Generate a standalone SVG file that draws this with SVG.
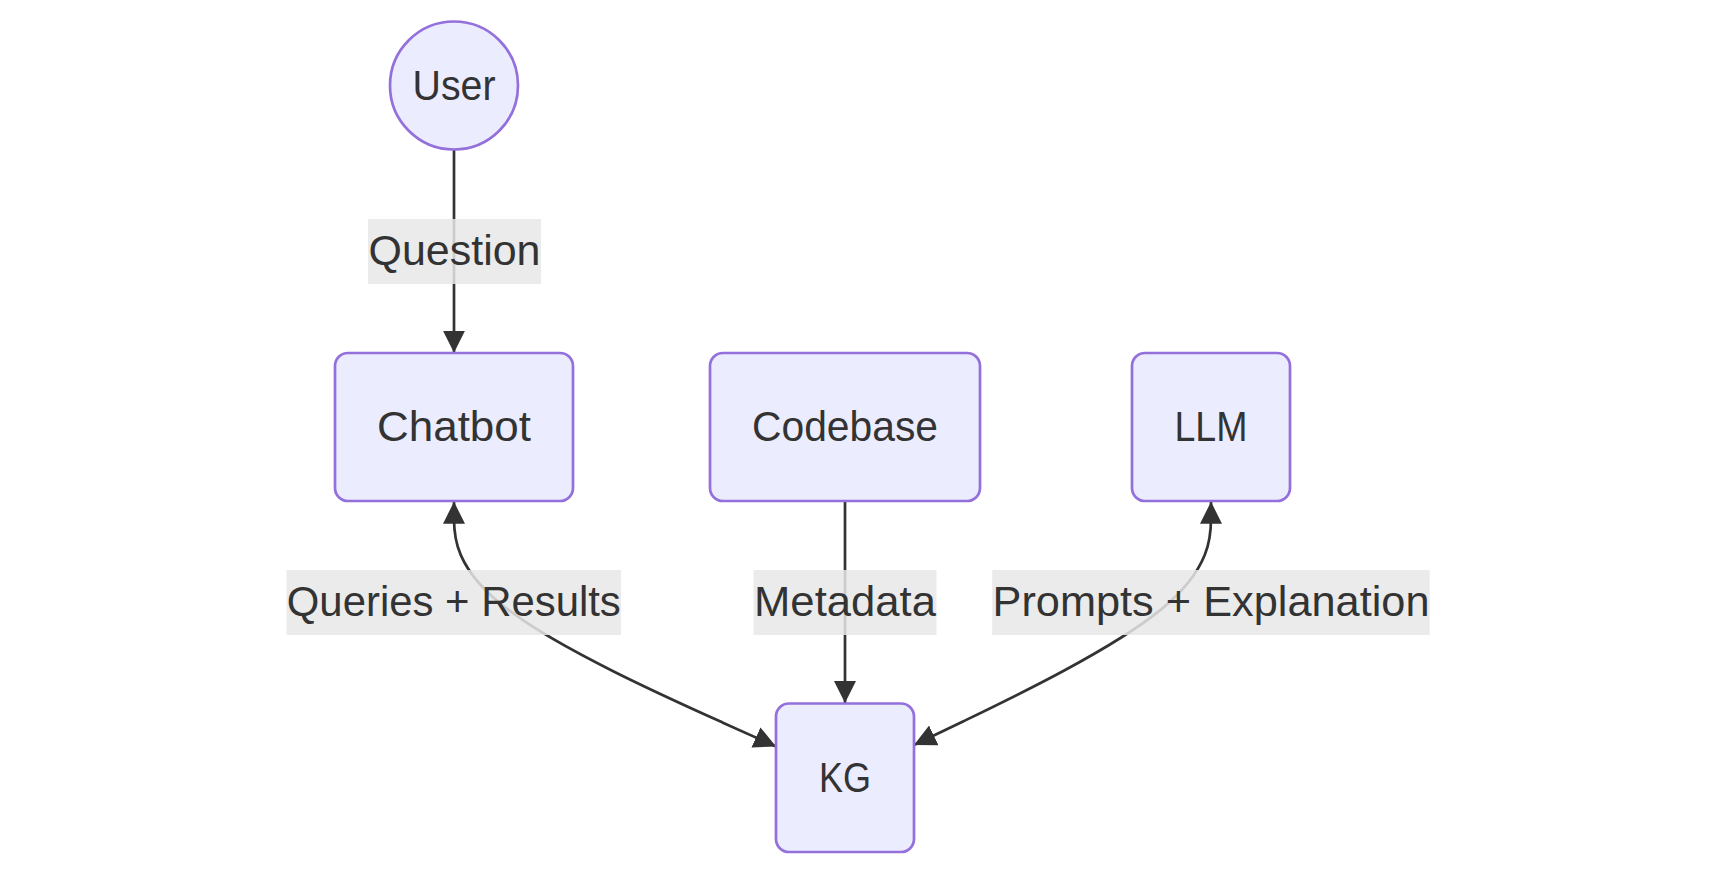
<svg xmlns="http://www.w3.org/2000/svg" width="1717" height="874" viewBox="0 0 1717 874">
<style>
.node rect, .node circle { fill: #ECECFF; stroke: #9370DB; stroke-width: 2.7; }
.node text { font-family: "Liberation Sans", Arial, sans-serif; font-size: 43px; fill: #333333; text-anchor: middle; }
.edge { fill: none; stroke: #333333; stroke-width: 2.7; }
.lbl rect { fill: #e8e8e8; fill-opacity: 0.85; }
.lbl text { font-family: "Liberation Sans", Arial, sans-serif; font-size: 43px; fill: #333333; text-anchor: middle; }
</style>
<defs>
<marker id="arrow" viewBox="0 0 10 10" refX="10" refY="5" markerUnits="userSpaceOnUse" markerWidth="22" markerHeight="22" orient="auto-start-reverse">
<path d="M0,0 L10,5 L0,10 z" fill="#333333"/>
</marker>
</defs>
<rect width="1717" height="874" fill="#ffffff"/>
<g id="connectors">
<path class="edge" d="M454,149.5 L454,352.7" marker-end="url(#arrow)"/>
<path class="edge" d="M454,501.7 L454,518.4 C454,535.1 454,568.6 507.7,609.4 C561.3,650.2 668.7,698.3 722.3,722.4 L776,746.5" marker-start="url(#arrow)" marker-end="url(#arrow)"/>
<path class="edge" d="M845,501.7 L845,703" marker-end="url(#arrow)"/>
<path class="edge" d="M1211,501.7 L1211,518.4 C1211,535.1 1211,568.6 1161.5,609.1 C1112,649.7 1013,697.3 963.5,721.2 L914,745" marker-start="url(#arrow)" marker-end="url(#arrow)"/>
<g class="lbl">
<rect x="368" y="219" width="173" height="65"/>
<text x="454.5" y="265" textLength="172" lengthAdjust="spacingAndGlyphs">Question</text>
<rect x="286.5" y="570" width="334.5" height="65"/>
<text x="453.8" y="616" textLength="334" lengthAdjust="spacingAndGlyphs">Queries + Results</text>
<rect x="753.5" y="570" width="183" height="65"/>
<text x="845" y="616" textLength="182" lengthAdjust="spacingAndGlyphs">Metadata</text>
<rect x="992.2" y="570" width="437.5" height="65"/>
<text x="1211" y="616" textLength="437" lengthAdjust="spacingAndGlyphs">Prompts + Explanation</text>
</g>
</g>
<g id="User" class="node">
<circle cx="454" cy="85.5" r="64"/>
<text x="454" y="99.5" textLength="83" lengthAdjust="spacingAndGlyphs">User</text>
</g>
<g id="Chatbot" class="node">
<rect x="335" y="353" width="238" height="148" rx="13" ry="13"/>
<text x="454" y="441" textLength="154" lengthAdjust="spacingAndGlyphs">Chatbot</text>
</g>
<g id="Codebase" class="node">
<rect x="710" y="353" width="270" height="148" rx="13" ry="13"/>
<text x="845" y="441" textLength="186" lengthAdjust="spacingAndGlyphs">Codebase</text>
</g>
<g id="LLM" class="node">
<rect x="1132" y="353" width="158" height="148" rx="13" ry="13"/>
<text x="1211" y="441" textLength="73" lengthAdjust="spacingAndGlyphs">LLM</text>
</g>
<g id="KG" class="node">
<rect x="776" y="703.5" width="138" height="148.5" rx="13" ry="13"/>
<text x="845" y="792" textLength="52" lengthAdjust="spacingAndGlyphs">KG</text>
</g>
</svg>
